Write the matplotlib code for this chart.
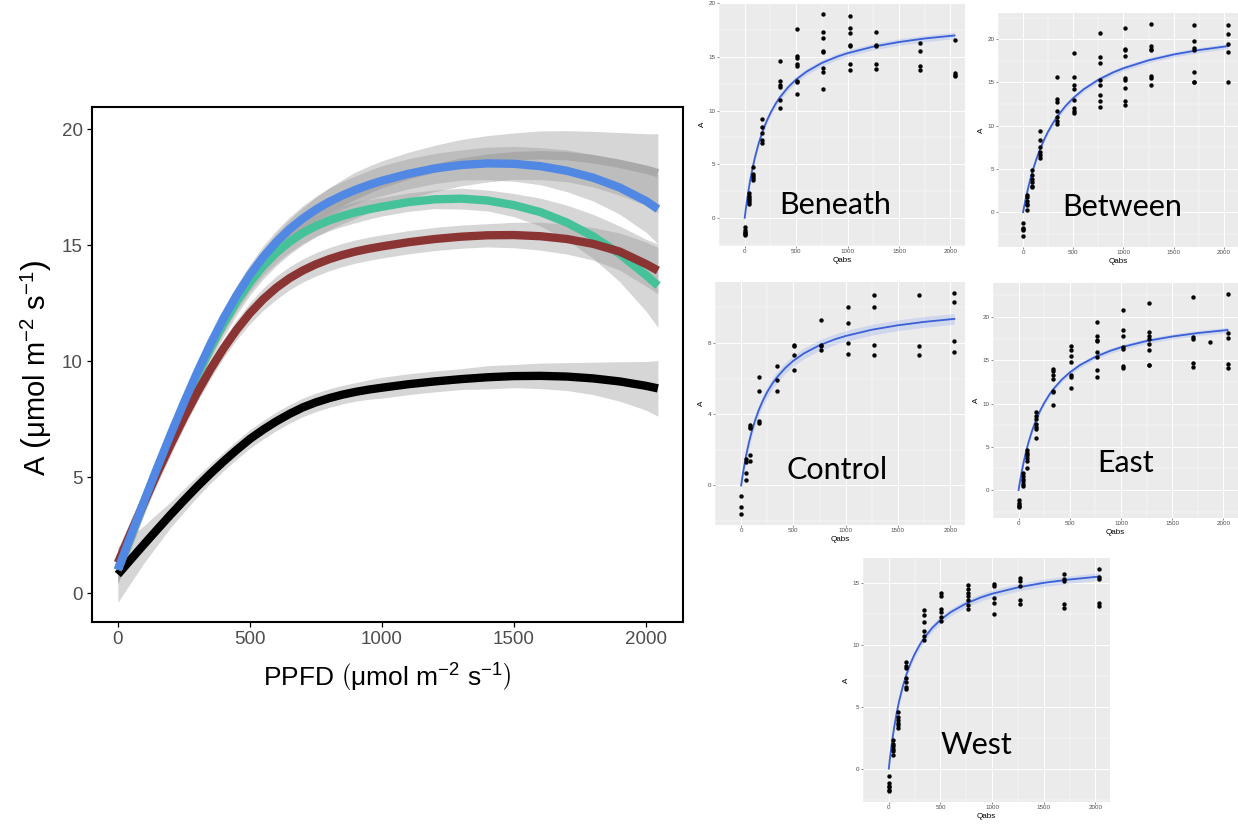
import numpy as np
import matplotlib
matplotlib.use('Agg')
import matplotlib.pyplot as plt

plt.rcParams['font.family'] = ['Liberation Sans', 'DejaVu Sans']
plt.rcParams['mathtext.fontset'] = 'custom'
plt.rcParams['mathtext.rm'] = 'Liberation Sans'
plt.rcParams['mathtext.it'] = 'Liberation Sans:italic'
plt.rcParams['mathtext.bf'] = 'Liberation Sans:bold'

W, H = 1238, 825

## main panel: smoothed light response per treatment
ppfd = [0, 50, 100, 150, 200, 250, 300, 350, 400, 450, 500, 550, 600, 650, 700, 750, 800,
        850, 900, 950, 1000, 1100, 1200, 1300, 1400, 1500, 1600, 1700, 1800, 1900, 2000, 2045]
fit_grey = [1.0, 2.47, 3.92, 5.34, 6.72, 8.05, 9.32, 10.51, 11.60, 12.58, 13.44, 14.18, 14.81,
            15.35, 15.81, 16.21, 16.56, 16.87, 17.15, 17.40, 17.63, 18.0, 18.3, 18.55, 18.72,
            18.83, 18.87, 18.83, 18.7, 18.5, 18.25, 18.1]
fit_blue = [1.0, 2.50, 3.98, 5.43, 6.84, 8.20, 9.50, 10.72, 11.84, 12.84, 13.72, 14.48, 15.13,
            15.68, 16.14, 16.53, 16.86, 17.14, 17.38, 17.59, 17.77, 18.07, 18.30, 18.45, 18.52,
            18.50, 18.40, 18.20, 17.90, 17.48, 16.90, 16.55]
fit_green = [1.0, 2.48, 3.94, 5.37, 6.76, 8.10, 9.37, 10.55, 11.62, 12.57, 13.39, 14.09, 14.67,
             15.14, 15.52, 15.82, 16.06, 16.25, 16.41, 16.54, 16.65, 16.85, 16.97, 17.0, 16.92,
             16.72, 16.42, 15.97, 15.37, 14.62, 13.7, 13.25]
fit_red = [1.3, 2.63, 3.93, 5.19, 6.40, 7.55, 8.63, 9.63, 10.54, 11.35, 12.06, 12.66, 13.16,
           13.57, 13.90, 14.17, 14.39, 14.57, 14.72, 14.84, 14.94, 15.12, 15.26, 15.36, 15.42,
           15.43, 15.38, 15.26, 15.05, 14.72, 14.18, 13.9]
fit_black = [0.8, 1.46, 2.11, 2.75, 3.38, 3.99, 4.58, 5.14, 5.67, 6.17, 6.64, 7.04, 7.40, 7.72,
             8.0, 8.22, 8.40, 8.55, 8.67, 8.77, 8.85, 9.0, 9.12, 9.22, 9.3, 9.35, 9.36, 9.33,
             9.25, 9.12, 8.93, 8.82]
# half width of the confidence ribbons
hw_grey = [0.6, 0.55, 0.5, 0.5, 0.5, 0.5, 0.5, 0.52, 0.55, 0.58, 0.6, 0.65, 0.7, 0.75, 0.8,
           0.85, 0.9, 0.95, 1.0, 1.0, 1.0, 1.0, 1.0, 1.0, 1.0, 1.0, 1.05, 1.1, 1.2, 1.35, 1.55, 1.7]
hw_blue = [0.5, 0.47, 0.45, 0.42, 0.4, 0.4, 0.4, 0.4, 0.4, 0.42, 0.45, 0.48, 0.5, 0.52, 0.55,
           0.57, 0.6, 0.6, 0.6, 0.62, 0.65, 0.65, 0.65, 0.65, 0.7, 0.75, 0.8, 0.9, 1.0, 1.15, 1.35, 1.5]
hw_green = [0.6, 0.55, 0.5, 0.47, 0.45, 0.42, 0.4, 0.4, 0.4, 0.4, 0.4, 0.42, 0.45, 0.45, 0.45,
            0.45, 0.45, 0.45, 0.45, 0.42, 0.4, 0.4, 0.4, 0.45, 0.45, 0.5, 0.6, 0.75, 0.95, 1.2, 1.55, 1.8]
hw_red = [0.6, 0.55, 0.5, 0.47, 0.45, 0.42, 0.4, 0.4, 0.4, 0.42, 0.45, 0.48, 0.5, 0.5, 0.5,
          0.5, 0.5, 0.5, 0.5, 0.5, 0.5, 0.5, 0.5, 0.5, 0.5, 0.55, 0.6, 0.65, 0.7, 0.8, 0.95, 1.0]
hw_black = [1.2, 1.0, 0.8, 0.68, 0.55, 0.5, 0.45, 0.42, 0.4, 0.4, 0.4, 0.4, 0.4, 0.4, 0.4,
            0.4, 0.4, 0.4, 0.4, 0.42, 0.45, 0.45, 0.45, 0.45, 0.5, 0.5, 0.55, 0.6, 0.7, 0.85, 1.05, 1.2]

## small panels: raw points per light level + fitted curve
qabs = [0, 42.5, 85, 170, 340, 510, 765, 1020, 1275, 1700, 2040]
fit_q = [0, 10, 25, 50, 75, 100, 135, 170, 210, 250, 300, 340, 420, 500, 600, 750, 900,
         1000, 1250, 1500, 1750, 2040]

beneath_A = [[-0.9, -1.1, -1.3, -1.4, -1.5, -1.6], [1.3, 1.5, 1.7, 1.8, 2.0, 2.3],
             [3.5, 3.7, 3.9, 4.1, 4.7], [9.2, 8.5, 7.9, 7.3, 7.0],
             [14.6, 12.8, 12.4, 12.2, 11.0, 10.2], [17.6, 15.1, 14.9, 14.3, 14.2, 12.8, 12.7, 11.5],
             [19.0, 17.3, 16.8, 15.6, 15.5, 14.0, 13.6, 12.0], [18.8, 17.7, 17.2, 16.1, 16.0, 14.3, 13.8],
             [17.3, 16.1, 16.0, 14.3, 13.9], [16.3, 15.6, 14.2, 13.8], [16.6, 13.5, 13.3, 13.2]]
beneath_fit = [0, 0.77, 1.82, 3.33, 4.59, 5.66, 6.92, 7.96, 8.95, 9.77, 10.63, 11.21, 12.16,
               12.9, 13.62, 14.44, 15.03, 15.35, 15.96, 16.39, 16.72, 17.0]

between_A = [[-1.2, -1.8, -1.9, -2.1, -2.8], [0.3, 0.8, 1.0, 1.3, 1.7, 2.0],
             [2.9, 3.0, 3.5, 3.8, 4.3, 4.9], [9.4, 8.3, 7.5, 7.0, 6.6, 6.3],
             [15.6, 13.1, 12.7, 11.7, 11.0, 10.5, 10.2], [18.4, 15.6, 14.7, 14.2, 13.0, 12.0, 11.7, 11.5],
             [20.7, 17.9, 17.2, 15.3, 14.7, 13.6, 12.9, 12.2],
             [21.3, 18.9, 18.7, 18.0, 15.5, 15.3, 14.4, 12.8, 12.4],
             [21.8, 19.2, 18.9, 18.7, 15.8, 15.5, 14.7], [21.7, 19.8, 19.0, 18.8, 16.2, 15.1, 15.0],
             [21.7, 20.6, 19.4, 18.5, 15.0]]
between_fit = [0, 0.62, 1.49, 2.79, 3.95, 4.97, 6.23, 7.32, 8.40, 9.34, 10.35, 11.05, 12.24,
               13.2, 14.18, 15.31, 16.18, 16.64, 17.56, 18.23, 18.74, 19.2]

control_A = [[-0.6, -1.2, -1.6], [1.5, 1.3, 0.7, 0.3], [3.4, 3.3, 3.2, 1.7, 1.4],
             [6.1, 5.3, 3.6, 3.5], [6.7, 5.9, 5.3], [7.9, 7.8, 7.3, 6.5],
             [9.3, 7.9, 7.8, 7.6], [10.0, 9.1, 8.0, 7.4], [10.7, 10.0, 7.9, 7.3],
             [10.7, 7.8, 7.3], [10.8, 10.3, 8.1, 7.5]]
control_fit = [0, 0.40, 0.95, 1.75, 2.42, 3.0, 3.68, 4.25, 4.79, 5.25, 5.73, 6.05, 6.58,
               7.0, 7.41, 7.87, 8.21, 8.39, 8.74, 8.99, 9.18, 9.35]

east_q = [0, 42.5, 85, 170, 340, 510, 765, 1020, 1275, 1700, 1870, 2040]
east_A = [[-1.1, -1.5, -1.7, -1.9, -2.0], [2.0, 1.6, 1.3, 1.0, 0.7, 0.5],
          [4.6, 4.3, 4.0, 3.7, 3.3, 2.5], [9.0, 8.6, 8.2, 7.6, 7.3, 7.1, 6.0],
          [14.0, 13.8, 13.3, 12.8, 11.5, 11.3, 9.8], [16.6, 16.2, 15.5, 14.8, 13.3, 13.1, 11.8],
          [19.4, 17.8, 17.4, 17.2, 16.0, 15.4, 13.9, 13.1], [20.8, 18.5, 17.8, 16.5, 16.3, 14.3, 14.1],
          [21.6, 18.3, 17.8, 17.5, 16.9, 16.2, 14.5, 14.4], [22.3, 17.7, 17.5, 14.7, 14.2],
          [17.1], [22.7, 18.1, 17.6, 14.6, 14.1]]
east_fit = [0, 0.75, 1.78, 3.27, 4.55, 5.66, 6.98, 8.09, 9.17, 10.07, 11.03, 11.68, 12.75,
            13.6, 14.45, 15.40, 16.12, 16.5, 17.23, 17.75, 18.15, 18.5]

west_A = [[-0.6, -1.2, -1.4, -1.5, -1.7, -1.8], [2.3, 2.0, 1.8, 1.6, 1.4, 1.1],
          [4.6, 4.2, 3.9, 3.7, 3.5, 3.3], [8.6, 8.3, 8.1, 7.3, 7.0, 6.6, 6.4],
          [12.8, 12.4, 11.8, 11.1, 10.7, 10.4], [14.2, 13.9, 12.9, 12.6, 12.2, 11.9],
          [14.8, 14.5, 14.2, 13.9, 13.6, 13.2, 12.9], [14.9, 14.7, 13.8, 13.4, 12.5],
          [15.4, 15.1, 14.7, 13.6, 13.3], [15.7, 15.3, 15.1, 13.3, 13.0],
          [16.1, 15.5, 15.3, 13.4, 13.1]]
west_fit = [0, 0.77, 1.80, 3.25, 4.45, 5.46, 6.63, 7.59, 8.49, 9.24, 10.0, 10.52, 11.35,
            12.0, 12.63, 13.33, 13.84, 14.11, 14.62, 14.99, 15.26, 15.5]


def px(l, t, r, b):
    # pixel box -> figure fraction rect
    return [l / W, 1 - b / H, (r - l) / W, (b - t) / H]


fig = plt.figure(figsize=(W / 100, H / 100), dpi=100)
fig.patch.set_facecolor('white')

## ---- main plot ----
ax = fig.add_axes(px(92, 107, 683, 622))
series = [(fit_grey, hw_grey, '#A9A9A9'),
          (fit_black, hw_black, 'black'),
          (fit_green, hw_green, '#46C29A'),
          (fit_red, hw_red, '#8B3434'),
          (fit_blue, hw_blue, '#5088E4')]
for y, hw, c in series:
    y = np.array(y); hw = np.array(hw)
    ax.fill_between(ppfd, y - hw, y + hw, color='#999999', alpha=0.4, lw=0, zorder=1)
for i, (y, hw, c) in enumerate(series):
    ax.plot(ppfd, y, color=c, lw=6, solid_capstyle='butt', solid_joinstyle='round', zorder=2 + i)

ax.set_xlim(-98, 2140)
ax.set_ylim(-1.25, 20.95)
ax.set_xticks([0, 500, 1000, 1500, 2000])
ax.set_yticks([0, 5, 10, 15, 20])
ax.tick_params(length=3.5, width=0.9, labelsize=13.5, labelcolor='#4D4D4D', pad=3)
for s in ax.spines.values():
    s.set_linewidth(1.5)

fig.text(387 / W, 1 - 678 / H, r'PPFD $\left(\mathrm{μmol\ m^{-2}\ s^{-1}}\right)$',
         ha='center', va='center', fontsize=19)
fig.text(36 / W, 1 - 368 / H, r'A $\left(\mathrm{μmol\ m^{-2}\ s^{-1}}\right)$',
         ha='center', va='center', fontsize=21, rotation=90)


## ---- small ggplot-like panels ----
def small_panel(box, levels, pts, fit_y, yticks, name, name_xy):
    a = fig.add_axes(px(*box))
    a.set_facecolor('#EBEBEB')
    xs, ys = [], []
    for q, vals in zip(levels, pts):
        xs += [q] * len(vals)
        ys += vals
    lo = min(ys + fit_y); hi = max(ys + fit_y)
    pad = (hi - lo) * 0.05
    a.set_ylim(lo - pad, hi + pad)
    a.set_xlim(-102, 2142)
    fy = np.array(fit_y)
    a.fill_between(fit_q, fy - 0.3, fy + 0.3, color='#3366FF', alpha=0.15, lw=0, zorder=2)
    a.plot(fit_q, fit_y, color='#3A5FD6', lw=1.3, zorder=3)
    a.scatter(xs, ys, s=10, color='black', lw=0, zorder=4)

    a.set_xticks([0, 500, 1000, 1500, 2000])
    a.set_xticks([-250, 250, 750, 1250, 1750], minor=True)
    step = yticks[1] - yticks[0]
    a.set_yticks(yticks)
    minor = [t + step / 2 for t in [yticks[0] - step] + yticks]
    a.set_yticks([m for m in minor if lo - pad < m < hi + pad], minor=True)
    a.grid(which='major', color='white', lw=0.7)
    a.grid(which='minor', color='white', lw=0.35)
    a.set_axisbelow(True)
    for s in a.spines.values():
        s.set_visible(False)
    a.tick_params(which='major', length=1.5, width=0.4, color='#333333',
                  labelsize=4.5, labelcolor='#4D4D4D', pad=1)
    a.tick_params(which='minor', length=0)
    a.set_xlabel('Qabs', fontsize=5.8, labelpad=1.5)
    a.set_ylabel('A', fontsize=5.8, labelpad=2)
    fig.text(name_xy[0] / W, 1 - name_xy[1] / H, name, family=['Lato', 'DejaVu Sans'],
             fontsize=22, ha='center', va='center')


small_panel((719, 3, 965, 246), qabs, beneath_A, beneath_fit, [0, 5, 10, 15, 20], 'Beneath', (835, 205))
small_panel((998, 13, 1238, 247), qabs, between_A, between_fit, [0, 5, 10, 15, 20], 'Between', (1122, 207))
small_panel((715, 282, 965, 525), qabs, control_A, control_fit, [0, 4, 8], 'Control', (837, 470))
small_panel((993, 283, 1238, 518), east_q, east_A, east_fit, [0, 5, 10, 15, 20], 'East', (1126, 463))
small_panel((863, 558, 1110, 802), qabs, west_A, west_fit, [0, 5, 10, 15], 'West', (976, 745))

fig.savefig('out.png', dpi=100)
